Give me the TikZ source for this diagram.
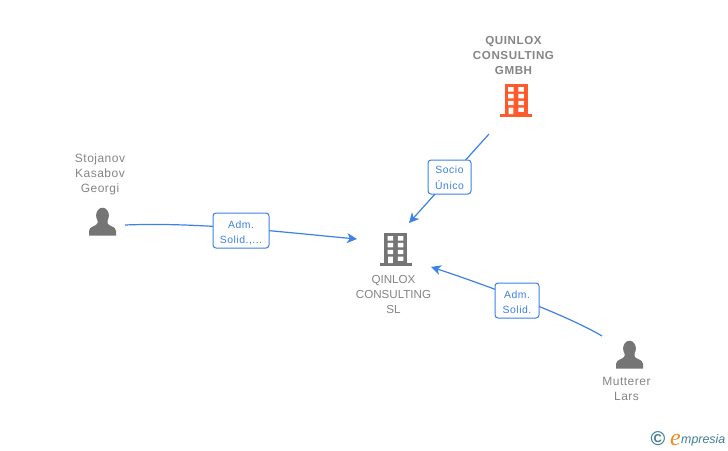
\documentclass[tikz,border=0pt]{standalone}
\usepackage{fontspec}
\setmainfont{Liberation Sans}
\newfontfamily\logofont{Liberation Serif}
\usetikzlibrary{arrows.meta}
\definecolor{txtgrey}{HTML}{858585}
\definecolor{icongrey}{HTML}{757575}
\definecolor{orangeicon}{HTML}{FF5A2C}
\definecolor{linkblue}{HTML}{3C82E4}
\definecolor{logoteal}{HTML}{3F7F96}
\definecolor{logoorange}{HTML}{F28A1E}
\tikzset{
  namelabel/.style={text=txtgrey,align=center,font=\fontsize{11.6}{15}\selectfont,inner sep=0pt},
  personlabel/.style={text=txtgrey,align=center,font=\fontsize{12}{15}\selectfont\addfontfeature{LetterSpace=4},inner sep=0pt},
  boldlabel/.style={text=txtgrey,align=center,font=\fontsize{11.6}{15}\selectfont\bfseries\addfontfeature{LetterSpace=5},inner sep=0pt},
  linkbox/.style={draw=linkblue,fill=white,line width=1pt,rounded corners=3pt,text=linkblue,align=center,
    font=\fontsize{10.4}{15.5}\selectfont\addfontfeature{LetterSpace=5},inner sep=0pt},
  link/.style={draw=linkblue,line width=1.2pt},
  linkarrow/.style={link,-{Stealth[length=10pt,width=10pt,inset=3pt]}},
  pics/building/.style={code={
    \fill[#1] (-11.5,0) rectangle (11.5,30);
    \fill[#1] (-16,30) rectangle (16,33);
    \fill[white] (-7.8,3) rectangle (-2.4,7.7) (2.4,3) rectangle (7.8,7.7)
                 (-7.8,9.8) rectangle (-2.4,14.3) (2.4,9.8) rectangle (7.8,14.3)
                 (-7.8,16.8) rectangle (-2.4,21.2) (2.4,16.8) rectangle (7.8,21.2)
                 (-7.3,23.5) rectangle (-2.6,30) (2.4,23.5) rectangle (7.8,27.8);
  }},
  pics/person/.style={code={
    \fill[icongrey] (0,-0.5) ellipse[x radius=6.4,y radius=7.8];
    \fill[icongrey] (-5,3) -- (-5,7) .. controls (-5,10) and (-13.5,10) .. (-13.5,15)
      -- (-13.5,19.5) -- (13.5,19.5) -- (13.5,15) .. controls (13.5,10) and (5,10) .. (5,7) -- (5,3) -- cycle;
  }}
}
\begin{document}
\begin{tikzpicture}[x=1pt,y=-1pt]
\useasboundingbox[fill=white] (0,0) rectangle (728,450);

% icons
\pic at (516,84) {building=orangeicon};
\pic at (395.5,233) {building=icongrey};
\pic at (102.5,216) {person};
\pic at (629.5,349) {person};

% names
\node[boldlabel] (gmbh) at (513.5,56) {QUINLOX\\CONSULTING\\GMBH};
\node[namelabel] (sl) at (393.5,295) {QINLOX\\CONSULTING\\SL};
\node[personlabel] (stojanov) at (100,174.5) {Stojanov\\Kasabov\\Georgi};
\node[personlabel] (mutterer) at (626.5,389) {Mutterer\\Lars};

% free ends
\coordinate (gmbhout) at (489,134);
\coordinate (socioend) at (409,223);
\coordinate (stojout) at (125,225);
\coordinate (stojend) at (357,239);
\coordinate (muttout) at (602,336);
\coordinate (muttend) at (431,267);

% connectors
\draw[linkarrow] (gmbhout) -- (socioend);
\draw[linkarrow] (stojout) .. controls (200,222) and (280,232) .. (stojend);
\draw[linkarrow] (muttout) .. controls (565,314) and (480,283) .. (muttend);

% link boxes
\node[linkbox,minimum width=43pt,minimum height=34pt] (socio) at (449.5,177) {\rule{0pt}{9.5pt}Socio\\Único};
\node[linkbox,minimum width=56pt,minimum height=35pt] (admsolid1) at (241,230.5) {\rule{0pt}{12pt}Adm.\\Solid.,...};
\node[linkbox,minimum width=44pt,minimum height=35pt] (admsolid2) at (517,300.5) {\rule{0pt}{11.5pt}Adm.\\Solid.};

% logo
\node[inner sep=0pt,text=logoteal,font=\fontsize{20}{20}\selectfont\bfseries] (copy) at (658,439) {©};
\node[inner sep=0pt,anchor=base west,text=logoorange,font=\logofont\itshape\fontsize{24}{24}\selectfont] (logoe) at (670,445) {e};
\node[inner sep=0pt,anchor=base west,text=logoteal,font=\itshape\fontsize{12.4}{13}\selectfont] (logo) at (681,443.5) {mpresia};
\end{tikzpicture}
\end{document}
